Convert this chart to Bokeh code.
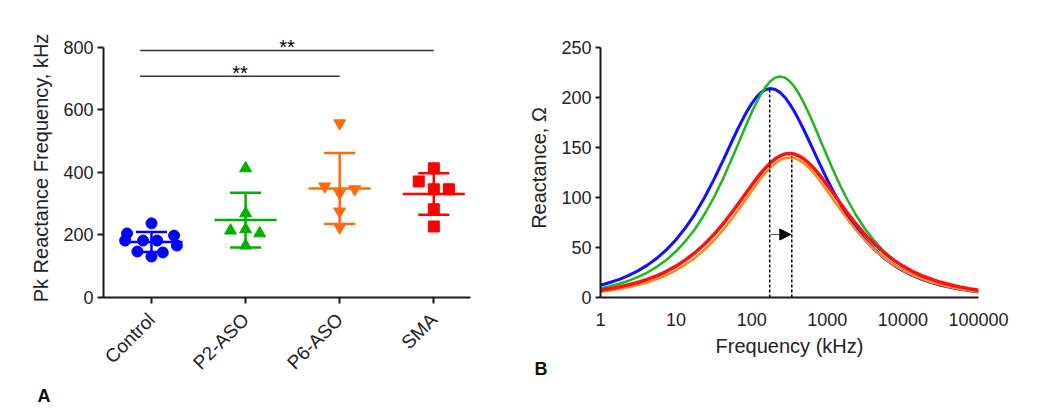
import math
import numpy as np
from bokeh.plotting import figure
from bokeh.layouts import row
from bokeh.models import (FixedTicker, Label, Arrow, NormalHead, Title,
                          NumeralTickFormatter, Range1d)
from bokeh.embed import file_html
from bokeh.resources import INLINE

FONT = "Liberation Sans"

# ---------------- Panel A data ----------------
groups = ["Control", "P2-ASO", "P6-ASO", "SMA"]
control = [237, 205, 198, 182, 182, 182, 166, 147, 144, 131]
p2_aso = [413, 269, 218, 214, 205, 166]
p6_aso = [557, 355, 346, 333, 275, 224]
sma = [413, 371, 346, 346, 282, 227]
group_values = [control, p2_aso, p6_aso, sma]
group_colors = ["#0000ff", "#00b000", "#ff6a10", "#ff0000"]
group_markers = ["circle", "triangle", "inverted_triangle", "square"]
group_sizes = [11, 12, 12, 11]
# horizontal scatter offsets of the dots (layout only)
jitter = [
    [0, -0.26, 0.24, -0.09, 0.06, -0.28, 0.27, -0.15, 0.12, 0],
    [0, 0, 0, -0.16, 0.15, 0],
    [0, -0.16, 0.16, 0, 0, 0],
    [0, -0.16, 0, 0.16, 0, 0],
]
sig_pairs = [(0, 3), (0, 2)]
sig_levels = [790, 707]
sig_text = ["**", "**"]
y_ticks_a = [0, 200, 400, 600, 800]

# ---------------- Panel B data ----------------
freq_khz = [1, 1.33, 1.78, 2.37, 3.16, 4.22, 5.62, 7.5,
            10, 13.3, 17.8, 23.7, 31.6, 42.2, 56.2,
            64.9, 75, 86.6, 100, 115.5, 133, 154, 178,
            205.4, 237, 273.8, 316, 365.2, 422, 487, 562,
            649.4, 750, 866, 1000, 1154.8, 1334, 1540, 1778,
            2371, 3162, 4217, 5623, 7499, 10000, 13335, 17783,
            23714, 31623, 42170, 56234, 74989, 100000]
blue_x = [12.3, 15.0, 18.2, 22.1, 26.9, 32.6, 39.5, 47.9,
          57.9, 69.7, 83.7, 99.8, 117.9, 137.6, 158.0,
          168.0, 177.4, 186.2, 193.9, 200.3, 205.1, 208.0, 209.0,
          208.0, 205.1, 200.3, 193.9, 186.2, 177.4, 168.0, 158.0,
          147.8, 137.6, 127.6, 117.9, 108.6, 99.8, 91.4, 83.7,
          69.7, 57.9, 47.9, 39.5, 32.6, 26.9, 22.1, 18.2,
          15.0, 12.3, 10.1, 8.3, 6.9, 5.6]
green_x = [9.1, 11.2, 13.7, 16.8, 20.6, 25.2, 30.9, 37.8,
           46.2, 56.3, 68.5, 83.0, 100.0, 119.4, 140.9,
           152.1, 163.3, 174.5, 185.1, 195.0, 203.7, 211.0, 216.5,
           219.9, 221.0, 219.9, 216.5, 211.0, 203.7, 195.0, 185.1,
           174.5, 163.3, 152.1, 140.9, 130.0, 119.4, 109.4, 100.0,
           83.0, 68.5, 56.3, 46.2, 37.8, 30.9, 25.2, 20.6,
           16.8, 13.7, 11.2, 9.1, 7.4, 6.1]
red_x = [7.3, 8.8, 10.6, 12.7, 15.2, 18.3, 21.9, 26.2,
         31.4, 37.5, 44.8, 53.2, 62.9, 74.0, 86.2,
         92.6, 99.2, 105.8, 112.3, 118.6, 124.6, 130.1, 134.8,
         138.7, 141.6, 143.4, 144.0, 143.4, 141.6, 138.7, 134.8,
         130.1, 124.6, 118.6, 112.3, 105.8, 99.2, 92.6, 86.2,
         74.0, 62.9, 53.2, 44.8, 37.5, 31.4, 26.2, 21.9,
         18.3, 15.2, 12.7, 10.6, 8.8, 7.3]
orange_x = [5.8, 7.1, 8.6, 10.4, 12.7, 15.3, 18.6, 22.5,
            27.2, 32.9, 39.6, 47.6, 57.0, 67.8, 79.9,
            86.4, 93.0, 99.8, 106.5, 113.1, 119.3, 125.1, 130.1,
            134.3, 137.4, 139.3, 140.0, 139.3, 137.4, 134.3, 130.1,
            125.1, 119.3, 113.1, 106.5, 99.8, 93.0, 86.4, 79.9,
            67.8, 57.0, 47.6, 39.6, 32.9, 27.2, 22.5, 18.6,
            15.3, 12.7, 10.4, 8.6, 7.1, 5.8]
peak_freqs = [173, 339]
peak_vals = [209, 141]
arrow_y = 63
x_ticks_b = [1, 10, 100, 1000, 10000, 100000]
y_ticks_b = [0, 50, 100, 150, 200, 250]


def style_axes(p):
    for ax in (p.xaxis[0], p.yaxis[0]):
        ax.axis_line_width = 2
        ax.axis_line_color = "#1a1a1a"
        ax.major_tick_line_width = 2
        ax.major_tick_line_color = "#1a1a1a"
        ax.major_tick_in = 0
        ax.minor_tick_line_color = None
        ax.major_label_text_font = FONT
        ax.major_label_text_font_size = "18px"
        ax.major_label_text_color = "#222222"
        ax.axis_label_text_font = FONT
        ax.axis_label_text_font_size = "20px"
        ax.axis_label_text_font_style = "normal"
        ax.axis_label_text_color = "#222222"
    p.grid.visible = False
    p.outline_line_color = None
    p.background_fill_color = "white"
    p.border_fill_color = "white"


def panel_letter(p, letter, offset, standoff):
    p.add_layout(Title(text=letter, align="left", offset=offset, standoff=standoff,
                       text_font=FONT, text_font_size="18px", text_font_style="bold",
                       text_color="#111111"), "below")


# ---------------- Panel A ----------------
p1 = figure(frame_width=367, frame_height=259,
            x_range=Range1d(-0.51, 3.39), y_range=Range1d(0, 828),
            output_backend="svg", toolbar_location=None,
            min_border_left=103, min_border_right=50,
            min_border_top=38, min_border_bottom=110)
style_axes(p1)

for i, vals in enumerate(group_values):
    xs = [i + j for j in jitter[i]]
    p1.scatter(xs, vals, marker=group_markers[i], size=group_sizes[i],
               fill_color=group_colors[i], line_color=group_colors[i])
    m = float(np.mean(vals))
    sd = float(np.std(vals, ddof=1))
    c = group_colors[i]
    p1.segment(x0=[i - 0.33], y0=[m], x1=[i + 0.33], y1=[m], line_color=c, line_width=2.5)
    p1.segment(x0=[i], y0=[m - sd], x1=[i], y1=[m + sd], line_color=c, line_width=2.5)
    p1.segment(x0=[i - 0.165, i - 0.165], y0=[m - sd, m + sd],
               x1=[i + 0.165, i + 0.165], y1=[m - sd, m + sd], line_color=c, line_width=2.5)

for (a, b), lvl, txt in zip(sig_pairs, sig_levels, sig_text):
    p1.line([a - 0.12, b], [lvl, lvl], line_color="#333333", line_width=1.5)
    p1.add_layout(Label(x=(a - 0.12 + b) / 2, y=lvl + 10, text=txt,
                        text_align="center", text_baseline="alphabetic",
                        text_font=FONT, text_font_size="20px", text_color="black"))

p1.yaxis.ticker = FixedTicker(ticks=y_ticks_a)
p1.yaxis.bounds = (0, 800)
p1.yaxis.major_tick_out = 6
p1.yaxis.major_label_standoff = 4
p1.yaxis.axis_label = "Pk Reactance Frequency, kHz"
p1.yaxis.axis_label_standoff = 8
p1.xaxis.ticker = FixedTicker(ticks=list(range(len(groups))))
p1.xaxis.major_label_overrides = {i: g for i, g in enumerate(groups)}
p1.xaxis.major_label_orientation = math.pi / 4
p1.xaxis.major_label_text_font_size = "19px"
p1.xaxis.major_tick_out = 6
p1.xaxis.major_label_standoff = 13
panel_letter(p1, "A", -66, 0)

# ---------------- Panel B ----------------
p2 = figure(frame_width=378, frame_height=259, x_axis_type="log",
            x_range=Range1d(1, 100000), y_range=Range1d(0, 259),
            output_backend="svg", toolbar_location=None,
            min_border_left=80, min_border_right=48,
            min_border_top=38, min_border_bottom=110)
style_axes(p2)

p2.line(freq_khz, blue_x, line_color="#1010ff", line_width=3)
p2.line(freq_khz, green_x, line_color="#1fb51f", line_width=2.5)
p2.line(freq_khz, orange_x, line_color="#ff8a1a", line_width=2.5)
p2.line(freq_khz, red_x, line_color="#ff1010", line_width=3.5)

p2.segment(x0=peak_freqs, y0=[0] * len(peak_freqs), x1=peak_freqs, y1=peak_vals,
           line_color="black", line_width=1.5, line_dash="3 2")
p2.add_layout(Arrow(end=NormalHead(size=11, fill_color="black", line_color="black"),
                    x_start=peak_freqs[0] * 1.03, y_start=arrow_y,
                    x_end=peak_freqs[1] * 0.97, y_end=arrow_y,
                    line_color="#555555", line_width=1.2))

p2.xaxis.ticker = FixedTicker(ticks=x_ticks_b)
p2.xaxis.formatter = NumeralTickFormatter(format="0")
p2.xaxis.major_tick_out = 0
p2.xaxis.major_label_standoff = 15
p2.xaxis.axis_label = "Frequency (kHz)"
p2.xaxis.axis_label_standoff = 6
p2.yaxis.ticker = FixedTicker(ticks=y_ticks_b)
p2.yaxis.bounds = (0, 250)
p2.yaxis.major_tick_out = 5
p2.yaxis.major_label_standoff = 4
p2.yaxis.axis_label = "Reactance, \u03a9"
p2.yaxis.axis_label_standoff = 8
panel_letter(p2, "B", -66, -6)

layout = row(p1, p2)
open("out.html", "w").write(file_html(layout, INLINE))
